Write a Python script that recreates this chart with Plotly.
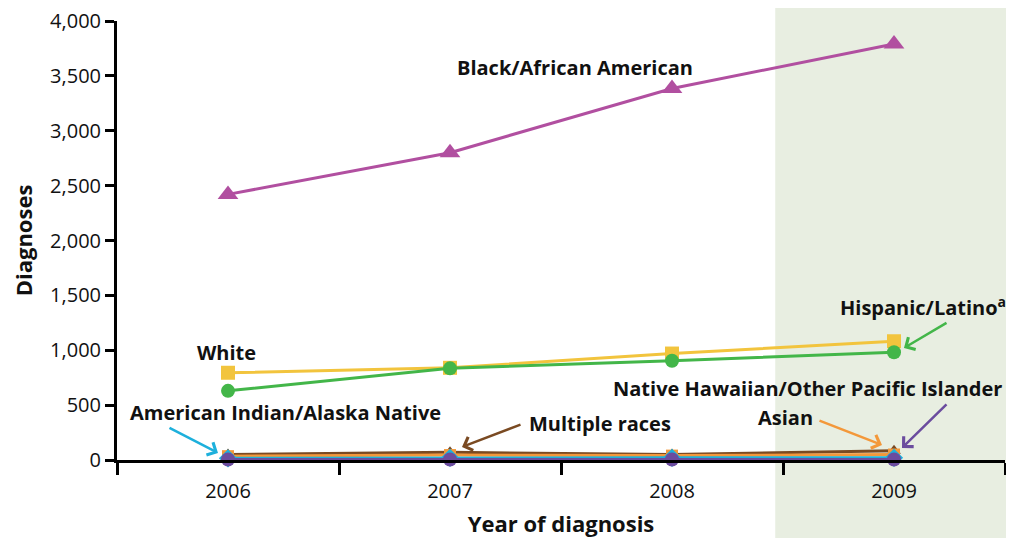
import plotly.graph_objects as go

years = [2006, 2007, 2008, 2009]
year_labels = ["2006", "2007", "2008", "2009"]

black = [2420, 2800, 3385, 3790]
white = [795, 840, 970, 1082]
hispanic = [630, 835, 905, 982]
multiple = [50, 70, 50, 85]
asian = [35, 45, 40, 50]
aian = [15, 20, 20, 20]
nhopi = [5, 5, 5, 5]

series = [
    ("Black/African American", black, "#B14FA0", "triangle-up", 18),
    ("White", white, "#F2C43D", "square", 14),
    ("Hispanic/Latino", hispanic, "#43B649", "circle", 14),
    ("Multiple races", multiple, "#7A4A22", "triangle-up", 12),
    ("Asian", asian, "#F3983A", "square", 12),
    ("American Indian/Alaska Native", aian, "#1DB0DC", "diamond", 14),
    ("Native Hawaiian/Other Pacific Islander", nhopi, "#6B4C9E", "circle", 14),
]

FONT = "Open Sans"

fig = go.Figure()
for name, vals, color, sym, size in series:
    fig.add_trace(go.Scatter(
        x=years, y=vals, name=name, mode="lines+markers",
        line=dict(color=color, width=3),
        marker=dict(color=color, symbol=sym, size=size, line=dict(width=0)),
        cliponaxis=False, showlegend=False,
    ))

# shaded region for 2009
x0_frac = (2008.465 - 2005.5) / 4.0
fig.add_shape(type="rect", xref="paper", yref="paper",
              x0=x0_frac, x1=1.2, y0=-0.5, y1=1.5,
              fillcolor="#E8EEE1", line=dict(width=0), layer="below")

label_font = dict(family=FONT, size=20, color="#111111", weight="bold")

texts = [
    ("Black/African American", 2007.563, 3580),
    ("White", 2005.995, 984),
    ("Hispanic/Latino<sup>a</sup>", 2009.13, 1403),
    ("Native Hawaiian/Other Pacific Islander", 2008.61, 647),
    ("Asian", 2008.509, 383),
    ("American Indian/Alaska Native", 2006.261, 437),
    ("Multiple races", 2007.676, 337),
]
for t, x, y in texts:
    fig.add_annotation(x=x, y=y, text=t, showarrow=False, font=label_font,
                       xanchor="center", yanchor="middle")

def px2x(p):
    return 2005.5 + (p - 117) / 222.0

def py2y(p):
    return (460 - p) * 4000 / 439.0

arrows = [
    ((904, 348), (948, 322), "#43B649"),
    ((218, 453), (168, 427), "#1DB0DC"),
    ((462, 447), (522, 424), "#7A4A22"),
    ((882, 445), (818, 420), "#F3983A"),
    ((902, 448), (948, 403), "#6B4C9E"),
]
for (hx, hy), (tx, ty), c in arrows:
    fig.add_annotation(x=px2x(hx), y=py2y(hy), ax=px2x(tx), ay=py2y(ty),
                       axref="x", ayref="y", xref="x", yref="y",
                       text="", showarrow=True, arrowhead=4, arrowsize=1.1,
                       arrowwidth=2.5, arrowcolor=c, standoff=0, startstandoff=0)

fig.update_layout(
    width=1006, height=530,
    margin=dict(l=109, r=9, t=13, b=78, autoexpand=False),
    paper_bgcolor="white", plot_bgcolor="rgba(0,0,0,0)",
    font=dict(family=FONT, color="#111111"),
    xaxis=dict(
        range=[2005.5, 2009.5], tickvals=years, ticktext=year_labels,
        ticks="", showgrid=False, zeroline=False, automargin=False,
        showline=True, linecolor="black", linewidth=3,
        tickfont=dict(family=FONT, size=20, color="#111111"),
        ticklabelstandoff=11, ticklabeloverflow="allow",
        minor=dict(tickvals=[2005.5, 2006.5, 2007.5, 2008.5, 2009.5],
                   ticks="outside", ticklen=12, tickwidth=3, tickcolor="black"),
        title=dict(text="Year of diagnosis", standoff=14,
                   font=dict(family=FONT, size=22, color="#111111", weight="bold")),
    ),
    yaxis=dict(
        range=[0, 4000], tickvals=[0, 500, 1000, 1500, 2000, 2500, 3000, 3500, 4000],
        tickformat=",d", ticks="outside", ticklen=9, tickwidth=3, tickcolor="black",
        showgrid=False, zeroline=False, automargin=False,
        showline=True, linecolor="black", linewidth=3,
        tickfont=dict(family=FONT, size=20, color="#111111"),
        ticklabeloverflow="allow",
        title=dict(text="Diagnoses", standoff=22,
                   font=dict(family=FONT, size=22, color="#111111", weight="bold")),
    ),
)

fig.write_html("out.html")
